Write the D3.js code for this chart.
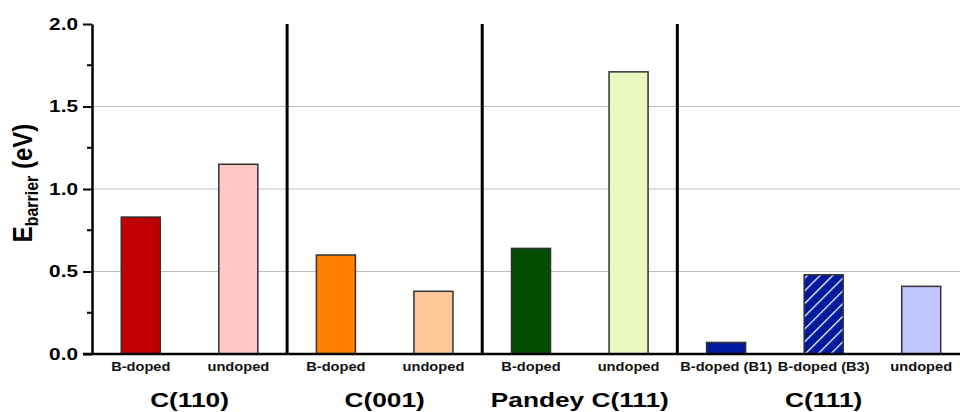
<!DOCTYPE html>
<html lang="en">
<head>
    <meta charset="UTF-8">
    <script src="https://cdn.jsdelivr.net/npm/d3@7"></script>
    <title>Barrier energies</title>
    <style>
        body { margin: 0; background: white; }
        text { font-family: Arial, "Liberation Sans", sans-serif; font-weight: bold; }
    </style>
</head>
<body>
    <div class="fig"></div>

    <script>
        // data
        const categories = ["c110_b", "c110_u", "c001_b", "c001_u", "pan_b", "pan_u", "c111_b1", "c111_b3", "c111_u"];
        const barLabels = ["B-doped", "undoped", "B-doped", "undoped", "B-doped", "undoped", "B-doped (B1)", "B-doped (B3)", "undoped"];
        const barrier = [0.83, 1.15, 0.60, 0.38, 0.64, 1.71, 0.07, 0.48, 0.41];
        const barColors = ["#c00000", "#ffc6c4", "#ff8000", "#ffc896", "#004d00", "#eaf8c0", "#001a9e", "url(#hatch)", "#c0c4ff"];
        const groupNames = ["C(110)", "C(001)", "Pandey C(111)", "C(111)"];
        const groupMembers = [[0, 1], [2, 3], [4, 5], [6, 7, 8]];
        const yTicks = [0, 0.5, 1.0, 1.5, 2.0];

        const width = 960, height = 412;
        const margin = { left: 92, top: 24, bottom: 58 };
        const stretch = 1.25;   // the original picture is a bit wider than tall

        const svg = d3.select(".fig").append("svg")
            .attr("width", width)
            .attr("height", height);

        // hatch for B3 bar
        const pat = svg.append("defs").append("pattern")
            .attr("id", "hatch")
            .attr("patternUnits", "userSpaceOnUse")
            .attr("width", 9).attr("height", 9)
            .attr("patternTransform", "rotate(45)");
        pat.append("rect").attr("width", 9).attr("height", 9).attr("fill", "#001a9e");
        pat.append("line").attr("x1", 0).attr("y1", 0).attr("x2", 0).attr("y2", 9)
            .attr("stroke", "white").attr("stroke-width", 2.5);

        const x = d3.scalePoint()
            .domain(categories)
            .range([margin.left, margin.left + 878])
            .padding(0.5);
        const step = x.step();
        const barW = step * 0.4;

        const y = d3.scaleLinear()
            .domain([0, 2])
            .range([height - margin.bottom, margin.top]);

        // grid lines
        svg.selectAll("line.grid")
            .data([0.5, 1.0, 1.5])
            .enter()
            .append("line")
            .attr("x1", margin.left).attr("x2", width)
            .attr("y1", d => y(d)).attr("y2", d => y(d))
            .attr("stroke", "#bdbdbd").attr("stroke-width", 1);

        // group separators
        const seps = [1, 3, 5].map(i => (x(categories[i]) + x(categories[i + 1])) / 2);
        svg.selectAll("line.sep")
            .data(seps)
            .enter()
            .append("line")
            .attr("x1", d => d).attr("x2", d => d)
            .attr("y1", y(2)).attr("y2", y(0))
            .attr("stroke", "black").attr("stroke-width", 3);

        // bars
        svg.selectAll("rect.bar")
            .data(barrier)
            .enter()
            .append("rect")
            .attr("x", (d, i) => x(categories[i]) - barW / 2)
            .attr("y", d => y(d))
            .attr("width", barW)
            .attr("height", d => y(0) - y(d))
            .attr("fill", (d, i) => barColors[i])
            .attr("stroke", "#333")
            .attr("stroke-width", 1.5);

        // y axis
        const yAxis = svg.append("g")
            .attr("transform", `translate(${margin.left},0)`)
            .call(d3.axisLeft(y).tickValues(yTicks).tickFormat(d3.format(".1f")).tickSize(9).tickSizeOuter(0));
        yAxis.select(".domain").attr("stroke-width", 2.5);
        yAxis.selectAll(".tick line").attr("stroke-width", 2);
        yAxis.selectAll(".tick text")
            .attr("font-size", 16).attr("font-weight", "bold")
            .attr("font-family", "Arial, 'Liberation Sans', sans-serif")
            .attr("fill", "black")
            .attr("x", -14 / 1.3)
            .attr("transform", "scale(1.3,1)");

        // minor ticks
        svg.selectAll("line.minor")
            .data([0.25, 0.75, 1.25, 1.75])
            .enter()
            .append("line")
            .attr("x1", margin.left - 5).attr("x2", margin.left)
            .attr("y1", d => y(d)).attr("y2", d => y(d))
            .attr("stroke", "black").attr("stroke-width", 2);

        // x axis line
        svg.append("line")
            .attr("x1", margin.left - 9).attr("x2", width)
            .attr("y1", y(0)).attr("y2", y(0))
            .attr("stroke", "black").attr("stroke-width", 2.5);

        // bar labels
        svg.selectAll("text.blab")
            .data(barLabels)
            .enter()
            .append("text")
            .attr("transform", (d, i) => `translate(${x(categories[i])},${y(0) + 17}) scale(1.22,1)`)
            .attr("text-anchor", "middle")
            .attr("font-size", 12)
            .attr("fill", "#111")
            .text(d => d);

        // group labels
        svg.selectAll("text.glab")
            .data(groupNames)
            .enter()
            .append("text")
            .attr("transform", (d, i) => `translate(${d3.mean(groupMembers[i], j => x(categories[j]))},${y(0) + 53}) scale(${stretch},1)`)
            .attr("text-anchor", "middle")
            .attr("font-size", 21)
            .text(d => d);

        // y axis title
        const title = svg.append("text")
            .attr("transform", `translate(32,183) scale(1.15,1) rotate(-90)`)
            .attr("text-anchor", "middle")
            .attr("font-size", 24);
        title.append("tspan").text("E");
        title.append("tspan").attr("font-size", 16).attr("dy", 5).text("barrier");
        title.append("tspan").attr("dy", -5).text(" (eV)");
    </script>
</body>
</html>
